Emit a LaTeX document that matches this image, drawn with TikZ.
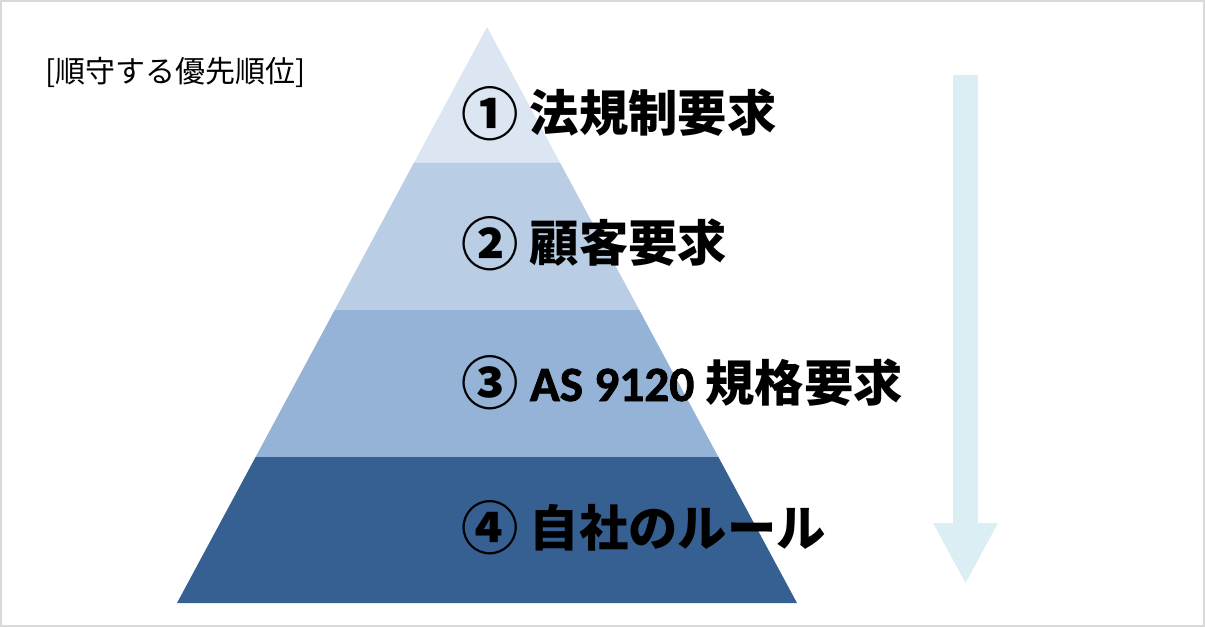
\documentclass[tikz,border=0pt]{standalone}
\usepackage{fontspec}
\usepackage[svgnames]{xcolor}
\usepackage{tikz}

\newfontfamily\jpfont{Noto Sans CJK JP}
\newfontfamily\latinfont{Carlito Bold}[FakeBold=1.6]

\definecolor{tierone}{HTML}{DCE6F2}
\definecolor{tiertwo}{HTML}{B9CDE5}
\definecolor{tierthree}{HTML}{95B3D7}
\definecolor{tierfour}{HTML}{376092}
\definecolor{flowblue}{HTML}{DBEEF4}
\definecolor{framegray}{HTML}{D9D9D9}

\tikzset{
  tierlabel/.style={anchor=base west, inner sep=0pt, font=\jpfont\bfseries\fontsize{37}{40}\selectfont},
  headline/.style={anchor=base west, inner sep=0pt, font=\jpfont\fontsize{22.5}{26}\selectfont}
}
\newcommand\tiernum[1]{{\fontsize{43}{40}\selectfont\raisebox{-0.06em}{#1}}}

\begin{document}
\begin{tikzpicture}[x=0.75pt,y=-0.75pt]
\useasboundingbox (0,0) rectangle (1205,627);
\draw[framegray, line width=1.5pt] (1,1) rectangle (1204,626);
% pyramid, top to bottom
\fill[tierone] (487,27) -- (560.2,163) -- (413.8,163) -- cycle;
\fill[tiertwo] (413.8,163) -- (560.2,163) -- (639.3,310) -- (334.7,310) -- cycle;
\fill[tierthree] (334.7,310) -- (639.3,310) -- (718.4,457) -- (255.6,457) -- cycle;
\fill[tierfour] (255.6,457) -- (718.4,457) -- (797,603) -- (177,603) -- cycle;
% priority arrow
\fill[flowblue] (953,75) -- (978,75) -- (978,523) -- (998,523) -- (965.5,583) -- (933,523) -- (953,523) -- cycle;
\node[headline] (title) at (45,83) {[順守する優先順位]};
\node[tierlabel] (law) at (461,132) {\tiernum{①} 法規制要求};
\node[tierlabel] (customer) at (461,262) {\tiernum{②} 顧客要求};
\node[tierlabel] (standard) at (461,401) {\tiernum{③} {\latinfont AS 9120} 規格要求};
\node[tierlabel] (ownrule) at (461,546) {\tiernum{④} 自社のルール};
\end{tikzpicture}
\end{document}
